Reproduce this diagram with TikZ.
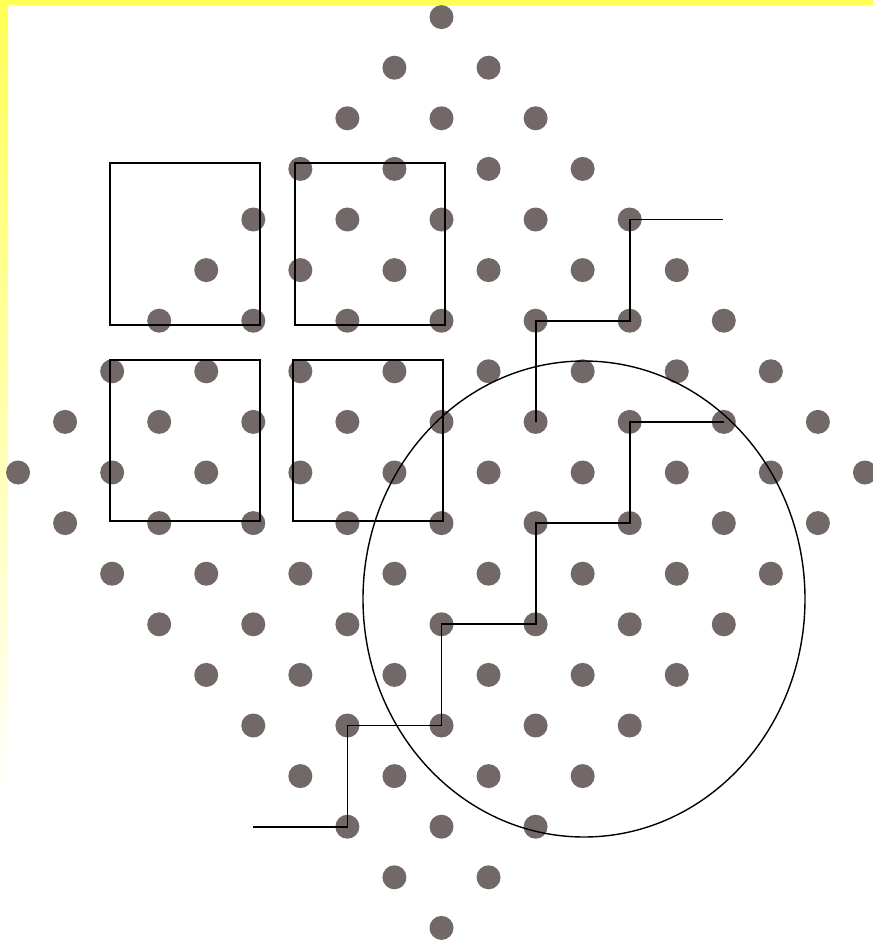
\documentclass[tikz,border=0pt]{standalone}
\usetikzlibrary{calc}
\definecolor{dotgrey}{RGB}{115,104,104}
\definecolor{bandyellow}{RGB}{255,255,85}
\tikzset{
  latdot/.style={circle, fill=dotgrey, draw=none, minimum size=24pt, inner sep=0pt},
  cellbox/.style={draw=black, line width=1.4pt},
  walk/.style={draw=black, line width=1.8pt, line join=miter},
  zone/.style={draw=black, line width=1.4pt}
}
\begin{document}
\begin{tikzpicture}[x=1pt,y=-1pt]
\useasboundingbox (0,0) rectangle (873,943);
\fill[white] (0,0) rectangle (873,943);
% yellow frame
\shade[top color=bandyellow, bottom color=white] (0,0) rectangle (8,800);
\fill[bandyellow] (0,0) rectangle (873,5);
% lattice of dots
\foreach \r in {-9,...,9}{
  \foreach \k in {-9,...,9}{
    \pgfmathtruncatemacro\ok{(abs(\k)+abs(\r)<=9) && (mod(\k+\r+40,2)==1)}
    \ifnum\ok=1
      \node[latdot] (d\k r\r) at ({441.5+47.05*\k},{472.5+50.6*\r}) {};
    \fi
  }
}
% squares
\draw[cellbox] (110,163) rectangle (260,325);
\draw[cellbox] (295,163) rectangle (445,325);
\draw[cellbox] (110,360) rectangle (260,521);
\draw[cellbox] (293,360) rectangle (443,521);
% circle
\draw[zone] (584,599) ellipse [x radius=221, y radius=238];
% walks
\coordinate (wstart) at ($(d-2r7.center)+(-94,0)$);
\coordinate (wend) at ($(d4r-5.center)+(93,0)$);
\draw[walk] (wstart) -- (d-2r7.center) -- (d-2r5.center) -- (d0r5.center) -- (d0r3.center)
  -- (d2r3.center) -- (d2r1.center) -- (d4r1.center) -- (d4r-1.center) -- (d6r-1.center);
\draw[walk] (d2r-1.center) -- (d2r-3.center) -- (d4r-3.center) -- (d4r-5.center) -- (wend);
\end{tikzpicture}
\end{document}
